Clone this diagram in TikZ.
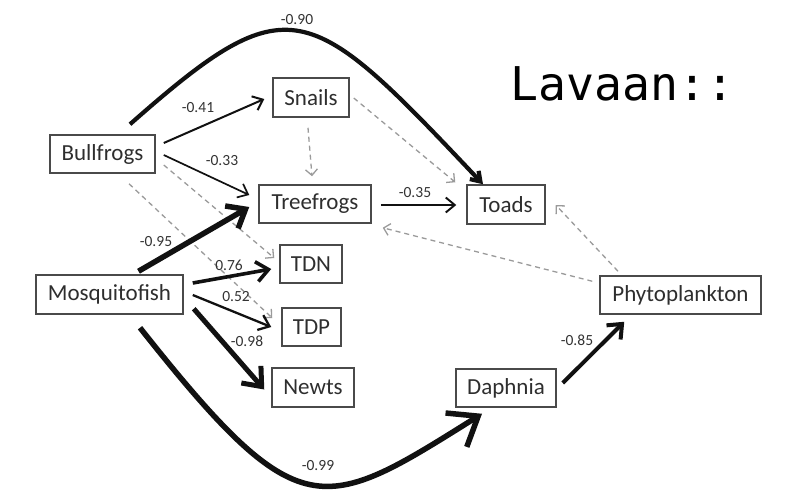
\documentclass[tikz,border=0pt]{standalone}
\usepackage{fontspec}
\setmainfont{Carlito}
\newfontfamily\monofam{DejaVu Sans Mono}
\usetikzlibrary{arrows.meta}
\definecolor{boxc}{HTML}{4A4A4A}
\definecolor{txt}{HTML}{2E2E2E}
\definecolor{lab}{HTML}{333333}
\definecolor{dashc}{HTML}{9A9A9A}
\definecolor{ink}{HTML}{111111}
\tikzset{
  box/.style={draw=boxc, line width=1.5pt, inner sep=0pt, text=txt,
    font=\fontsize{23}{23}\selectfont},
  lbl/.style={text=lab, inner sep=0pt, font=\fontsize{15.5}{15.5}\selectfont},
  solidarr/.style 2 args={draw=ink, -{Straight Barb[length=#1, width=#2]}},
  dasharr/.style={draw=dashc, line width=1.3pt, dash pattern=on 5pt off 4pt,
    -{Straight Barb[length=6pt, width=12pt, line width=1.3pt]}},
}
\begin{document}
\begin{tikzpicture}[x=1pt, y=-1pt]
\useasboundingbox (0,0) rectangle (805,498);
% nodes
\node[box, minimum width=105pt, minimum height=38pt] (bull) at (102.5,154) {Bullfrogs};
\node[box, minimum width=76pt, minimum height=39pt] (snail) at (311,97.5) {Snails};
\node[box, minimum width=112pt, minimum height=38pt] (tree) at (315,204) {Treefrogs};
\node[box, minimum width=78pt, minimum height=39pt] (toad) at (506,204.5) {Toads};
\node[box, minimum width=62pt, minimum height=38pt] (tdn) at (311,264) {TDN};
\node[box, minimum width=147pt, minimum height=39pt] (mosq) at (109.5,294.5) {Mosquitofish};
\node[box, minimum width=59pt, minimum height=38pt] (tdp) at (311.5,327) {TDP};
\node[box, minimum width=82pt, minimum height=39pt] (newt) at (313,387.5) {Newts};
\node[box, minimum width=100pt, minimum height=38pt] (daph) at (506,388) {Daphnia};
\node[box, minimum width=161pt, minimum height=38pt] (phyto) at (680.5,295) {Phytoplankton};
\node[anchor=base west, inner sep=0pt, font=\monofam\fontsize{46.5}{46.5}\selectfont] (title) at (510,100) {Lavaan::};

% dashed (non-significant) paths
\draw[dasharr] ([shift={(8,11)}]bull.east) -- ([shift={(-5,-6)}]tdn.west);
\draw[dasharr] ([shift={(26.5,10)}]bull.south) -- ([shift={(-9,-9)}]tdp.west);
\draw[dasharr] ([shift={(-3,10)}]snail.south) -- ([shift={(-3,-8)}]tree.north);
\draw[dasharr] ([shift={(4,0.5)}]snail.east) -- ([shift={(-11,-2)}]toad.north west);
\draw[dasharr] ([shift={(-7,6)}]phyto.north west) -- ([shift={(11,4)}]tree.south east);
\draw[dasharr] ([shift={(-62.5,-4)}]phyto.north) -- ([shift={(10,0.5)}]toad.east);

% solid paths
\draw[solidarr={9pt}{15pt}, line width=2pt] ([shift={(8,-11)}]bull.east) -- ([shift={(-8,1.5)}]snail.west);
\node[lbl] (l41) at (198,108) {-0.41};
\draw[solidarr={9pt}{15pt}, line width=1.7pt] ([shift={(8,1)}]bull.east) -- ([shift={(-9,-9)}]tree.west);
\node[lbl] (l33) at (222,161) {-0.33};
\draw[solidarr={9pt}{15pt}, line width=1.9pt] ([shift={(9,1)}]tree.east) -- ([shift={(-10,0.5)}]toad.west);
\node[lbl] (l35) at (415,193) {-0.35};
\draw[solidarr={9pt}{12pt}, line width=4.2pt] ([shift={(27.5,-10)}]bull.north) .. controls (290,-17) and (308,-1) .. ([shift={(-23,0)}]toad.north);
\node[lbl] (l90) at (297,20) {-0.90};
\draw[solidarr={16pt}{26pt}, line width=5.5pt] ([shift={(29,-3)}]mosq.north) -- ([shift={(-9,3)}]tree.west);
\node[lbl] (l95) at (156,242) {-0.95};
\draw[solidarr={12pt}{20pt}, line width=3.6pt] ([shift={(9,-11.5)}]mosq.east) -- ([shift={(-8,5)}]tdn.west);
\node[lbl] (l76) at (229,265) {0.76};
\draw[solidarr={10pt}{16pt}, line width=2.3pt] ([shift={(9,0.5)}]mosq.east) -- ([shift={(-10,0)}]tdp.west);
\node[lbl] (l52) at (236,297) {0.52};
\draw[solidarr={16pt}{26pt}, line width=5pt] ([shift={(10,-6)}]mosq.south east) -- ([shift={(-7,2)}]newt.west);
\node[lbl] (l98) at (247,341) {-0.98};
\draw[solidarr={26pt}{40pt}, line width=5.5pt] ([shift={(30.5,13)}]mosq.south) .. controls (300,530) and (322,514) .. ([shift={(-24,6)}]daph.south);
\node[lbl] (l99) at (318,466) {-0.99};
\draw[solidarr={12pt}{20pt}, line width=4pt] ([shift={(6,-5)}]daph.east) -- ([shift={(25,7)}]phyto.south west);
\node[lbl] (l85) at (577,340) {-0.85};
\end{tikzpicture}
\end{document}
